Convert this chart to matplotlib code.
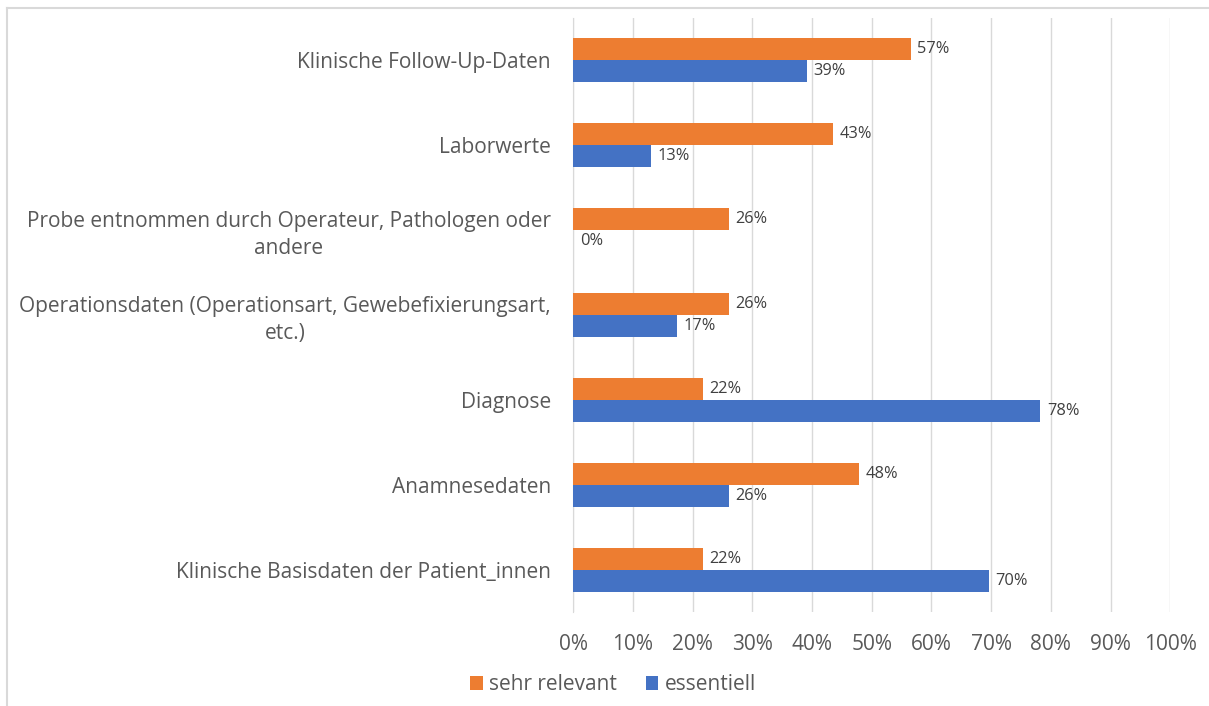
import matplotlib.pyplot as plt
from matplotlib.lines import Line2D

plt.rcParams['font.family'] = ['Open Sans', 'DejaVu Sans']

categories = [
    "Klinische Follow-Up-Daten",
    "Laborwerte",
    "Probe entnommen durch Operateur, Pathologen oder\nandere",
    "Operationsdaten (Operationsart, Gewebefixierungsart,\netc.)",
    "Diagnose",
    "Anamnesedaten",
    "Klinische Basisdaten der Patient_innen",
]
sehr_relevant = [56.52, 43.48, 26.09, 26.09, 21.74, 47.83, 21.74]
essentiell = [39.13, 13.04, 0.0, 17.39, 78.26, 26.09, 69.57]
xticks = list(range(0, 101, 10))

orange = "#ED7D31"
blue = "#4472C4"
text_col = "#595959"

fig = plt.figure(figsize=(12.09, 7.06), dpi=100)
ax = fig.add_axes([0.474, 0.133, 0.494, 0.842])

y = list(range(len(categories)))
h = 0.26
ax.barh([i - h / 2 for i in y], sehr_relevant, height=h, color=orange,
        label="sehr relevant", zorder=3)
ax.barh([i + h / 2 for i in y], essentiell, height=h, color=blue,
        label="essentiell", zorder=3)

for i in y:
    ax.text(sehr_relevant[i] + 1.1, i - h / 2, f"{sehr_relevant[i]:.0f}%",
            va="center", ha="left", fontsize=11.8, color="#404040")
    ax.text(essentiell[i] + 1.1, i + h / 2, f"{essentiell[i]:.0f}%",
            va="center", ha="left", fontsize=11.8, color="#404040")

ax.set_ylim(len(categories) - 0.5, -0.5)
ax.set_xlim(0, 100)
ax.set_yticks(y)
ax.set_yticklabels(categories, fontsize=15, color=text_col,
                   multialignment="center", linespacing=1.35)
ax.set_xticks(xticks)
ax.set_xticklabels([f"{t}%" for t in xticks], fontsize=15, color=text_col)
ax.tick_params(axis="both", length=0)
ax.tick_params(axis="y", pad=16)
ax.tick_params(axis="x", pad=16)

ax.grid(axis="x", color="#D9D9D9", linewidth=1, zorder=0)
for s in ["top", "right", "bottom"]:
    ax.spines[s].set_visible(False)
ax.spines["left"].set_color("#D9D9D9")

handles, labels = ax.get_legend_handles_labels()
fig.legend(handles, labels, loc="center", bbox_to_anchor=(0.507, 0.03), ncol=2,
           frameon=False, fontsize=15, handlelength=0.6, handleheight=0.6,
           handletextpad=0.3, columnspacing=1.4, labelcolor=text_col)

fig.add_artist(Line2D([0.006, 1.0], [0.989, 0.989], color="#D9D9D9", linewidth=1.5))
fig.add_artist(Line2D([0.006, 0.006], [0.0, 0.989], color="#D9D9D9", linewidth=1.5))

fig.savefig("out.png", dpi=100)
